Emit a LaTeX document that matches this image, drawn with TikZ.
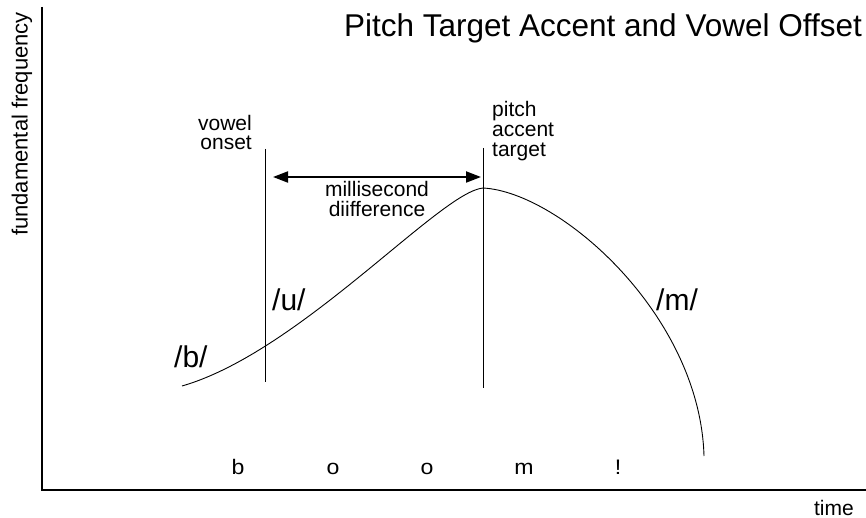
\documentclass[tikz,border=0pt]{standalone}
\usepackage{fontspec}
\setmainfont{Liberation Sans}
\usetikzlibrary{arrows.meta}
\begin{document}
\begin{tikzpicture}[x=1pt,y=-1pt,
  lbl/.style={inner sep=0pt,font=\fontsize{21}{19}\selectfont},
  phon/.style={inner sep=0pt,anchor=base west,font=\fontsize{30}{32}\selectfont},
  letter/.style={inner sep=0pt,anchor=base,font=\fontsize{21}{22}\selectfont},
  guide/.style={line width=0.9pt},
  axis/.style={line width=1.1pt}]
\useasboundingbox (0,0) rectangle (866,518);
% axes
\coordinate (o) at (42,490);
\coordinate (ytop) at (42,7);
\coordinate (xend) at (866,490);
\draw[axis] (ytop) -- (o) -- (xend);
\node[inner sep=0pt,rotate=90,font=\fontsize{22}{24}\selectfont] (ylab) at (22,124) {fundamental frequency};
\node[lbl,anchor=base east] (tlab) at (854,515) {time};
% title
\node[inner sep=0pt,anchor=base east,font=\fontsize{31.5}{33}\selectfont] (title) at (862,37) {Pitch Target Accent and Vowel Offset};
% guide lines
\coordinate (v1) at (265,149);
\coordinate (v2) at (265,382);
\coordinate (p1) at (483,148);
\coordinate (p2) at (483,388);
\draw[guide] (v1) -- (v2);
\draw[guide] (p1) -- (p2);
\node[lbl,anchor=base east] (vo1) at (252,131) {vowel};
\node[lbl,anchor=base east] (vo2) at (252,150) {onset};
\node[lbl,anchor=base west] (pa1) at (492,117) {pitch};
\node[lbl,anchor=base west] (pa2) at (492,137) {accent};
\node[lbl,anchor=base west] (pa3) at (492,157) {target};
% arrow
\coordinate (a1) at (273,177);
\coordinate (a2) at (481,177);
\draw[line width=2pt,{Triangle[length=15pt,width=11pt]}-{Triangle[length=15pt,width=11pt]}] (a1) -- (a2);
\node[lbl,anchor=base] (ms1) at (377,197) {millisecond};
\node[lbl,anchor=base] (ms2) at (377,217) {diifference};
% contour
\coordinate (c0) at (182,386);
\coordinate (peak) at (483,188);
\coordinate (c1) at (704,456);
\draw[line width=0.9pt] (c0) .. controls (300,352) and (440,192) .. (peak)
  .. controls (560,192) and (700,315) .. (c1);
\node[phon] (b) at (174,367) {/b/};
\node[phon] (u) at (272,310) {/u/};
\node[phon] (m) at (656,310) {/m/};
% word
\node[letter] (l1) at (238,474) {\scalebox{1.1}[1]{b}};
\node[letter] (l2) at (333,474) {\scalebox{1.1}[1]{o}};
\node[letter] (l3) at (427,474) {\scalebox{1.1}[1]{o}};
\node[letter] (l4) at (524,474) {\scalebox{1.1}[1]{m}};
\node[letter] (l5) at (618,474) {\scalebox{1.1}[1]{!}};
\end{tikzpicture}
\end{document}
